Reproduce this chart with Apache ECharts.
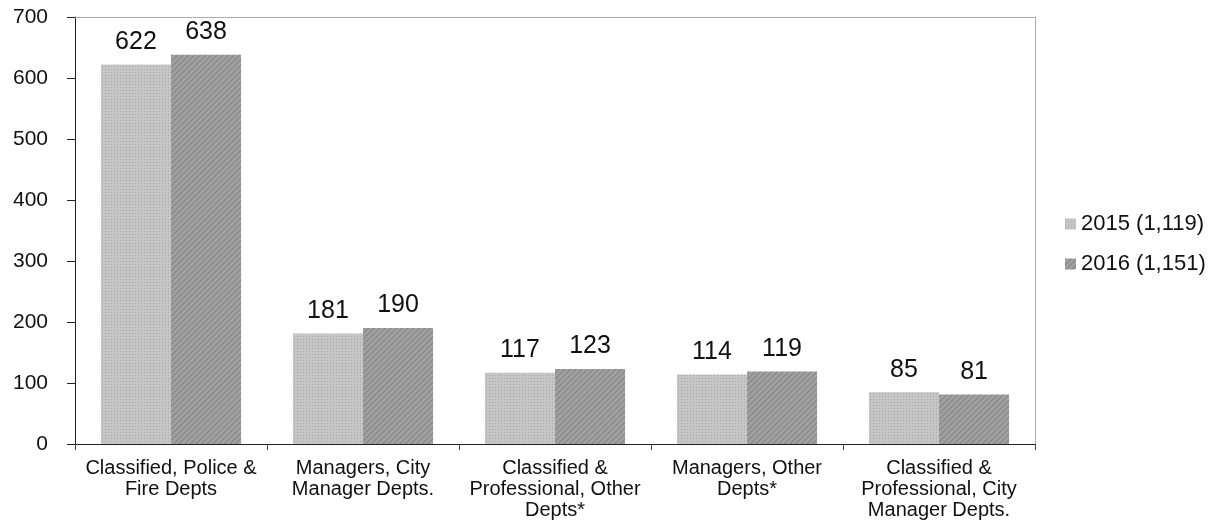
<!DOCTYPE html>
<html>
<head>
<meta charset="utf-8">
<script src="https://cdn.jsdelivr.net/npm/echarts@6/dist/echarts.min.js"></script>
<style>
  html, body { margin: 0; padding: 0; background: #fff; }
  #chart { width: 1221px; height: 527px; }
</style>
</head>
<body>
<div id="chart"></div>
<script>
const categories = [
  'Classified, Police &\nFire Depts',
  'Managers, City\nManager Depts.',
  'Classified &\nProfessional, Other\nDepts*',
  'Managers, Other\nDepts*',
  'Classified &\nProfessional, City\nManager Depts.'
]
const values2015 = [622, 181, 117, 114, 85]
const values2016 = [638, 190, 123, 119, 81]
const yTicks = { min: 0, max: 700, interval: 100 }

const myChart = echarts.init(document.getElementById('chart'))
const labelStyle = {
  show: true,
  position: 'top',
  distance: 10,
  color: '#111',
  fontSize: 25,
}
// dotted frame on top / right, like the plot area border
const frameLine = { show: true, onZero: false, lineStyle: { color: '#999', width: 1, type: 'dotted' } }
myChart.setOption({
  animation: false,
  textStyle: { fontFamily: 'Liberation Sans, Arial, sans-serif' },
  grid: {
    left: 75,
    right: 186,
    top: 17,
    bottom: 83,
  },
  legend: {
    orient: 'vertical',
    left: 1060,
    top: 208,
    itemWidth: 11,
    itemHeight: 11,
    itemGap: 18,
    icon: 'rect',
    textStyle: { fontSize: 22, color: '#111' },
    data: ['2015 (1,119)', '2016 (1,151)'],
  },
  xAxis: [
    {
      type: 'category',
      data: categories,
      axisLine: { lineStyle: { color: '#222', width: 1 } },
      axisTick: { show: true, length: 6, lineStyle: { color: '#444' } },
      axisLabel: { fontSize: 20, color: '#111', lineHeight: 21, margin: 14, interval: 0 },
    },
    {
      type: 'category',
      data: categories,
      position: 'top',
      axisLine: frameLine,
      axisTick: { show: false },
      axisLabel: { show: false },
    },
  ],
  yAxis: [
    {
      type: 'value',
      min: yTicks.min,
      max: yTicks.max,
      interval: yTicks.interval,
      axisLine: { show: true, lineStyle: { color: '#222', width: 1 } },
      axisTick: { show: true, length: 8, lineStyle: { color: '#222' } },
      splitLine: { show: false },
      axisLabel: { fontSize: 21, color: '#111', margin: 27 },
    },
    {
      type: 'value',
      min: yTicks.min,
      max: yTicks.max,
      interval: yTicks.interval,
      position: 'right',
      axisLine: frameLine,
      axisTick: { show: false },
      axisLabel: { show: false },
      splitLine: { show: false },
    },
  ],
  series: [
    {
      name: '2015 (1,119)',
      type: 'bar',
      data: values2015,
      barGap: '0%',
      barCategoryGap: '27%',
      itemStyle: {
        color: '#c6c6c6',
        decal: { symbol: 'rect', symbolSize: 1, dashArrayX: [1, 2], dashArrayY: [1, 2], color: 'rgba(110,110,110,0.35)', rotation: 0 },
      },
      label: labelStyle,
    },
    {
      name: '2016 (1,151)',
      type: 'bar',
      data: values2016,
      itemStyle: {
        color: '#a0a0a0',
        decal: { symbol: 'rect', symbolSize: 1, dashArrayX: [1, 0], dashArrayY: [1, 3], color: 'rgba(80,80,80,0.35)', rotation: -Math.PI / 4 },
      },
      label: labelStyle,
    },
  ],
  aria: { enabled: true, decal: { show: true } },
})
</script>
</body>
</html>
